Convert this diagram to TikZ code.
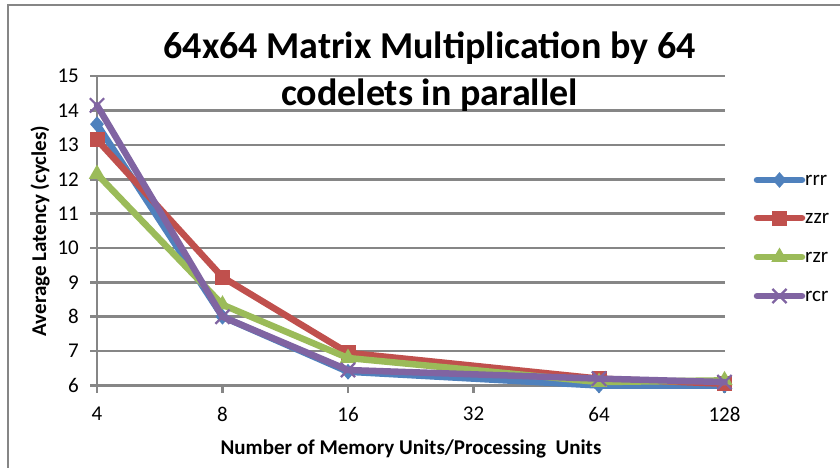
\documentclass[tikz,border=0pt]{standalone}
\usepackage{fontspec}
\setmainfont{Carlito}
\usetikzlibrary{shapes.geometric,shapes.misc}

\definecolor{gridgray}{HTML}{868686}
\definecolor{sblue}{HTML}{4F81BD}
\definecolor{sred}{HTML}{C0504D}
\definecolor{sgreen}{HTML}{9BBB59}
\definecolor{spurple}{HTML}{8064A2}

% x position of category i, y position of latency value v (1 unit = 1pt, y down)
\newcommand{\catx}[1]{97+125.5*#1}
\newcommand{\lat}[1]{385.5-(#1-6)*34.38}

\tikzset{
  gridline/.style={gridgray, line width=2.6pt},
  ticklabel/.style={font=\fontsize{21}{25}\selectfont, inner sep=0pt},
  axistitle/.style={font=\bfseries\fontsize{21}{25}\selectfont, inner sep=0pt},
  series/.style={line width=6.5pt, line join=round, line cap=round},
  mkdiamond/.style={diamond, fill, inner sep=0pt, minimum width=14pt, minimum height=16pt},
  mksquare/.style={rectangle, fill, inner sep=0pt, minimum size=15pt},
  mktriangle/.style={regular polygon, regular polygon sides=3, fill, inner sep=0pt, minimum size=19pt},
  mkcross/.style={cross out, draw, line width=2.2pt, inner sep=0pt, minimum size=12pt},
  legtext/.style={font=\fontsize{21}{25}\selectfont, anchor=west, inner sep=0pt},
  titletext/.style={font=\bfseries\fontsize{38}{46}\selectfont, anchor=base, inner sep=0pt},
}

\begin{document}
\begin{tikzpicture}[x=1pt, y=-1pt]
\useasboundingbox (0,0) rectangle (840,467);
\fill[white] (0,0) rectangle (840,467);

% chart frame
\draw[gridgray, line width=2.4pt] (8,500) -- (8,5) -- (880,5);

% horizontal gridlines and y ticks
\foreach \v in {6,...,15} {
  \draw[gridline] (97,{\lat{\v}}) -- (725,{\lat{\v}});
  \draw[gridline] (90,{\lat{\v}}) -- (97,{\lat{\v}});
  \node[ticklabel, anchor=east] (ylab\v) at (79,{\lat{\v}}) {\v};
}
% y axis
\draw[gridline] (97,{\lat{15}}) -- (97,{\lat{6}});

% x ticks and labels
\foreach \i/\t in {0/4,1/8,2/16,3/32,4/64,5/128} {
  \draw[gridline] ({\catx{\i}},{\lat{6}}) -- ({\catx{\i}},393);
  \node[ticklabel] (xlab\i) at ({\catx{\i}},414) {\t};
}

% title
\node[titletext] (title1) at (429.5,58) {64x64 Matrix Multiplication by 64};
\node[titletext] (title2) at (429.5,105) {codelets in parallel};

% axis titles
\node[axistitle, anchor=base] (xtitle) at (411,454) {Number of Memory Units/Processing\ \ Units};
\node[axistitle, rotate=90] (ytitle) at (40,231) {Average Latency (cycles)};

% data points (no value at 32)
\coordinate (rrr0) at ({\catx{0}},{\lat{13.6}});
\coordinate (rrr1) at ({\catx{1}},{\lat{8.0}});
\coordinate (rrr2) at ({\catx{2}},{\lat{6.4}});
\coordinate (rrr4) at ({\catx{4}},{\lat{6.0}});
\coordinate (rrr5) at ({\catx{5}},{\lat{6.0}});

\coordinate (zzr0) at ({\catx{0}},{\lat{13.15}});
\coordinate (zzr1) at ({\catx{1}},{\lat{9.15}});
\coordinate (zzr2) at ({\catx{2}},{\lat{6.95}});
\coordinate (zzr4) at ({\catx{4}},{\lat{6.2}});
\coordinate (zzr5) at ({\catx{5}},{\lat{6.05}});

\coordinate (rzr0) at ({\catx{0}},{\lat{12.15}});
\coordinate (rzr1) at ({\catx{1}},{\lat{8.35}});
\coordinate (rzr2) at ({\catx{2}},{\lat{6.8}});
\coordinate (rzr4) at ({\catx{4}},{\lat{6.1}});
\coordinate (rzr5) at ({\catx{5}},{\lat{6.15}});

\coordinate (rcr0) at ({\catx{0}},{\lat{14.15}});
\coordinate (rcr1) at ({\catx{1}},{\lat{8.0}});
\coordinate (rcr2) at ({\catx{2}},{\lat{6.45}});
\coordinate (rcr4) at ({\catx{4}},{\lat{6.2}});
\coordinate (rcr5) at ({\catx{5}},{\lat{6.1}});

% series rrr
\draw[series, sblue] (rrr0) -- (rrr1) -- (rrr2) -- (rrr4) -- (rrr5);
\foreach \i in {0,1,2,4,5} \node[mkdiamond, sblue] (rrrm\i) at (rrr\i) {};
% series zzr
\draw[series, sred] (zzr0) -- (zzr1) -- (zzr2) -- (zzr4) -- (zzr5);
\foreach \i in {0,1,2,4,5} \node[mksquare, sred] (zzrm\i) at (zzr\i) {};
% series rzr
\draw[series, sgreen] (rzr0) -- (rzr1) -- (rzr2) -- (rzr4) -- (rzr5);
\foreach \i in {0,1,2,4,5} \node[mktriangle, sgreen] (rzrm\i) at (rzr\i) {};
% series rcr
\draw[series, spurple] (rcr0) -- (rcr1) -- (rcr2) -- (rcr4) -- (rcr5);
\foreach \i in {0,1,2,4,5} \node[mkcross, spurple] (rcrm\i) at (rcr\i) {};

% legend
\foreach \n/\yy/\c/\m in {rrr/180/sblue/mkdiamond, zzr/218/sred/mksquare, rzr/257/sgreen/mktriangle, rcr/296/spurple/mkcross} {
  \coordinate (leg\n a) at (757,\yy);
  \coordinate (leg\n b) at (802,\yy);
  \draw[series, \c] (leg\n a) -- (leg\n b);
  \node[\m, \c] (leg\n m) at (779.5,\yy) {};
  \node[legtext] (leg\n t) at (805,\yy) {\n};
}
\end{tikzpicture}
\end{document}
